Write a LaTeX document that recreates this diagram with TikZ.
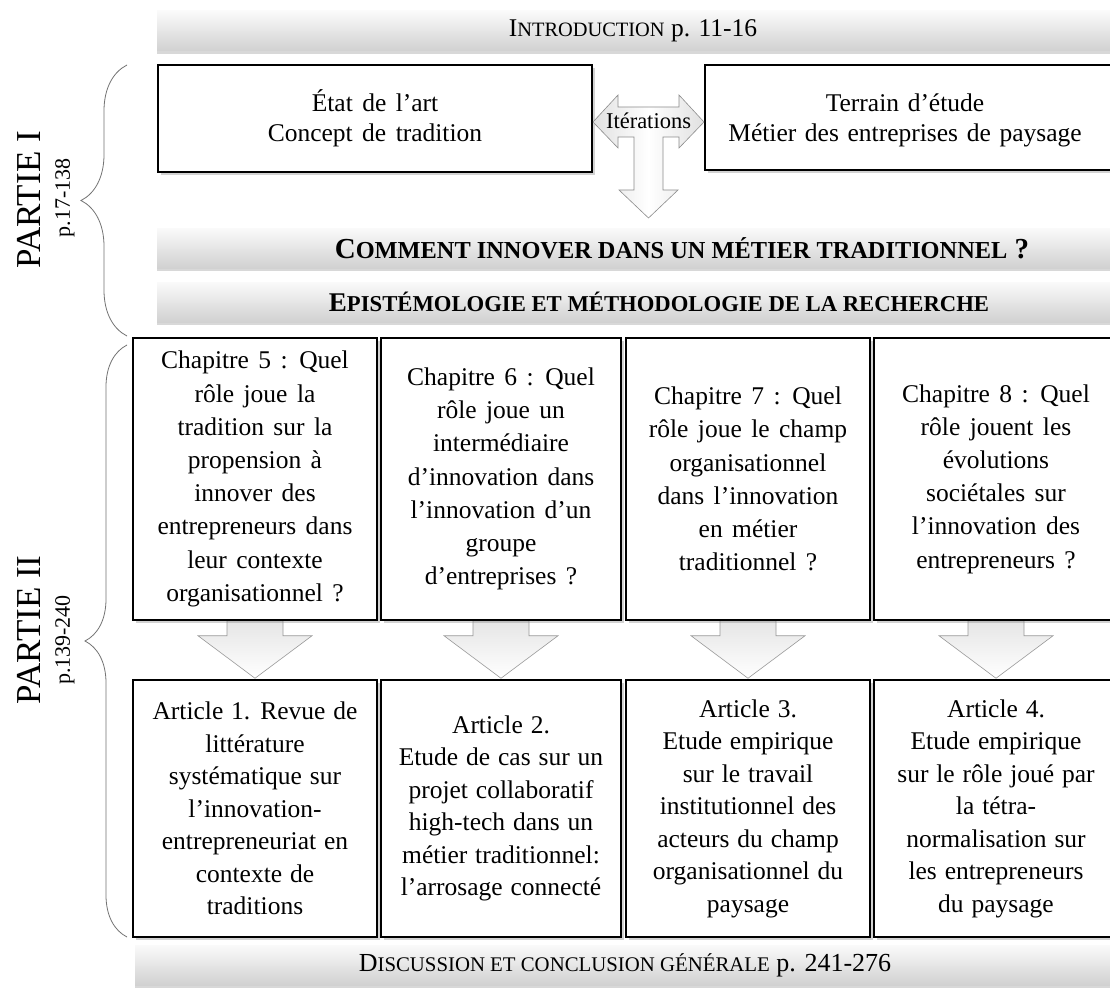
\documentclass[tikz,border=0pt]{standalone}
\usepackage{fontspec}
\setmainfont{Liberation Serif}
\usetikzlibrary{shadows,decorations.pathreplacing,calc}
\makeatletter
\newcommand{\fsc}[1]{{\fontsize{\fpeval{0.8*\f@size}}{\f@baselineskip}\selectfont #1}}
\newcommand{\fscb}[1]{{\fontsize{\fpeval{0.84*\f@size}}{\f@baselineskip}\selectfont #1}}
\makeatother
\newcommand{\widesp}{\spaceskip=0.37em plus 0.05em\relax}
\newcommand{\midsp}{\spaceskip=0.34em plus 0.05em\relax}
\newcommand{\artsp}{\spaceskip=0.31em plus 0.05em\relax}
\pgfdeclarelayer{back}
\pgfdeclarelayer{bg}
\pgfsetlayers{back,bg,main}
\tikzset{
  box/.style={draw=black, line width=1.5pt, fill=white,
    drop shadow={shadow xshift=2.5pt, shadow yshift=-3pt, opacity=0.35},
    align=center, inner sep=0pt, font=\fontsize{25.5}{33.2}\selectfont\widesp},
  artbox/.style={box, font=\fontsize{25.5}{32.5}\selectfont\artsp},
  banner/.style={top color=black!2, bottom color=black!18, draw=none,
    drop shadow={shadow xshift=0pt, shadow yshift=-3pt, opacity=0.3},
    inner sep=0pt, minimum height=40pt},
  btext/.style={font=\fontsize{25.5}{26}\selectfont, inner sep=0pt},
  bbtext/.style={font=\fontsize{29}{29}\selectfont\bfseries, inner sep=0pt},
  barrow/.style={top color=black!10, bottom color=white, draw=black!40, line width=0.6pt},
  tarrow/.style={left color=black!12, right color=black!12, middle color=white, draw=black!45, line width=0.6pt},
  curly/.style={decorate, decoration={brace, amplitude=#1}, draw=black!55, line width=0.8pt},
  parttitle/.style={rotate=90, font=\fontsize{35}{35}\selectfont, inner sep=0pt},
  partpages/.style={rotate=90, font=\fontsize{22}{22}\selectfont, inner sep=0pt},
}
\newcommand{\blockdown}[2]{\path[barrow] let \p1=(#1.south), \p2=(#2.north) in
  (\x1-28pt,\y1) -- (\x1-28pt,\y1-15pt) -- (\x1-57pt,\y1-15pt) -- (\x1,\y2+1pt)
  -- (\x1+57pt,\y1-15pt) -- (\x1+28pt,\y1-15pt) -- (\x1+28pt,\y1) -- cycle;}
\begin{document}
\begin{tikzpicture}[x=1pt,y=-1pt]
\begin{pgfonlayer}{back}
\path[fill=white] (0,0) rectangle (1110,995);
\end{pgfonlayer}
\useasboundingbox (0,0) rectangle (1110,995);

% banners
\node[banner, minimum width=963pt] (intro) at (638.5,31) {};
\node[btext] (introT) at (633,31) {I\fsc{NTRODUCTION} p. 11-16};
\node[banner, minimum width=963pt] (quest) at (638.5,248) {};
\node[bbtext] (questT) at (682,248) {C\fscb{OMMENT INNOVER DANS UN MÉTIER TRADITIONNEL} ?};
\node[banner, minimum width=963pt] (epis) at (638.5,302) {};
\node[bbtext, font=\fontsize{27}{27}\selectfont\bfseries] (episT) at (659,302) {E\fscb{PISTÉMOLOGIE ET MÉTHODOLOGIE DE LA RECHERCHE}};
\node[banner, minimum width=985pt] (disc) at (627.5,965) {};
\node[btext, font=\fontsize{26}{26}\selectfont] (discT) at (625,965) {D\fsc{ISCUSSION ET CONCLUSION GÉNÉRALE} p. 241-276};

% top boxes
\node[box, minimum width=434pt, minimum height=107pt, font=\fontsize{25.5}{30}\selectfont\widesp] (etat) at (375,118.5)
  {État de l’art\\Concept de tradition};
\node[box, minimum width=425pt, minimum height=105pt] (terrain) at (917.5,117.5) {};
\node[font=\fontsize{25.5}{30}\selectfont\midsp, align=center, inner sep=0pt] (terrainT) at (905,120)
  {Terrain d’étude\\Métier des entreprises de paysage};

% iterations arrow
\coordinate (tc) at ($(etat.east)!0.5!(terrain.west)+(0,4)$);
\begin{scope}[shift={(tc)}]
\path[tarrow] (-55.5,0) -- (-30.5,-27) -- (-30.5,-15) -- (30.5,-15) -- (30.5,-27) -- (55.5,0)
  -- (30.5,26) -- (30.5,15) -- (14.5,15) -- (14.5,68) -- (29.5,68) -- (0,96) -- (-29.5,68)
  -- (-14.5,68) -- (-14.5,15) -- (-30.5,15) -- (-30.5,26) -- cycle;
\end{scope}
\node[font=\fontsize{22.5}{22}\selectfont, inner sep=0pt] (iter) at ($(tc)+(0,-1)$) {Itérations};

% chapter boxes
\node[box, minimum width=244pt, minimum height=282pt] (c5) at (255,479)
  {Chapitre 5 : Quel\\rôle joue la\\tradition sur la\\propension à\\innover des\\entrepreneurs dans\\leur contexte\\organisationnel ?};
\node[box, minimum width=240pt, minimum height=282pt] (c6) at (501,479)
  {Chapitre 6 : Quel\\rôle joue un\\intermédiaire\\d’innovation dans\\l’innovation d’un\\groupe\\d’entreprises ?};
\node[box, minimum width=244pt, minimum height=282pt] (c7) at (748,479)
  {Chapitre 7 : Quel\\rôle joue le champ\\organisationnel\\dans l’innovation\\en métier\\traditionnel ?};
\node[box, minimum width=244pt, minimum height=282pt] (c8) at (996,479)
  {Chapitre 8 : Quel\\rôle jouent les\\évolutions\\sociétales sur\\l’innovation des\\entrepreneurs ?};

% article boxes
\node[artbox, minimum width=244pt, minimum height=257pt] (a1) at (255,808.5)
  {Article 1. Revue de\\littérature\\systématique sur\\l’innovation-\\entrepreneuriat en\\contexte de\\traditions};
\node[artbox, minimum width=240pt, minimum height=257pt] (a2) at (501,808.5)
  {Article 2.\\Etude de cas sur un\\projet collaboratif\\high-tech dans un\\métier traditionnel:\\l’arrosage connecté};
\node[artbox, minimum width=244pt, minimum height=257pt] (a3) at (748,808.5)
  {Article 3.\\Etude empirique\\sur le travail\\institutionnel des\\acteurs du champ\\organisationnel du\\paysage};
\node[artbox, minimum width=244pt, minimum height=257pt] (a4) at (996,808.5)
  {Article 4.\\Etude empirique\\sur le rôle joué par\\la tétra-\\normalisation sur\\les entrepreneurs\\du paysage};

% down arrows
\begin{pgfonlayer}{bg}
\blockdown{c5}{a1}
\blockdown{c6}{a2}
\blockdown{c7}{a3}
\blockdown{c8}{a4}
\end{pgfonlayer}

% braces and part labels
\coordinate (b1top) at (127,65);
\coordinate (b1bot) at (127,336);
\coordinate (b2top) at (127,345);
\coordinate (b2bot) at (127,937);
\draw[curly=46pt] (b1bot) -- (b1top);
\draw[curly=42pt] (b2bot) -- (b2top);
\node[parttitle] (p1) at (29,200) {PARTIE I};
\node[partpages] (p1p) at (65,198) {p.17-138};
\node[parttitle] (p2) at (29,630) {PARTIE II};
\node[partpages] (p2p) at (65,640) {p.139-240};
\end{tikzpicture}
\end{document}
